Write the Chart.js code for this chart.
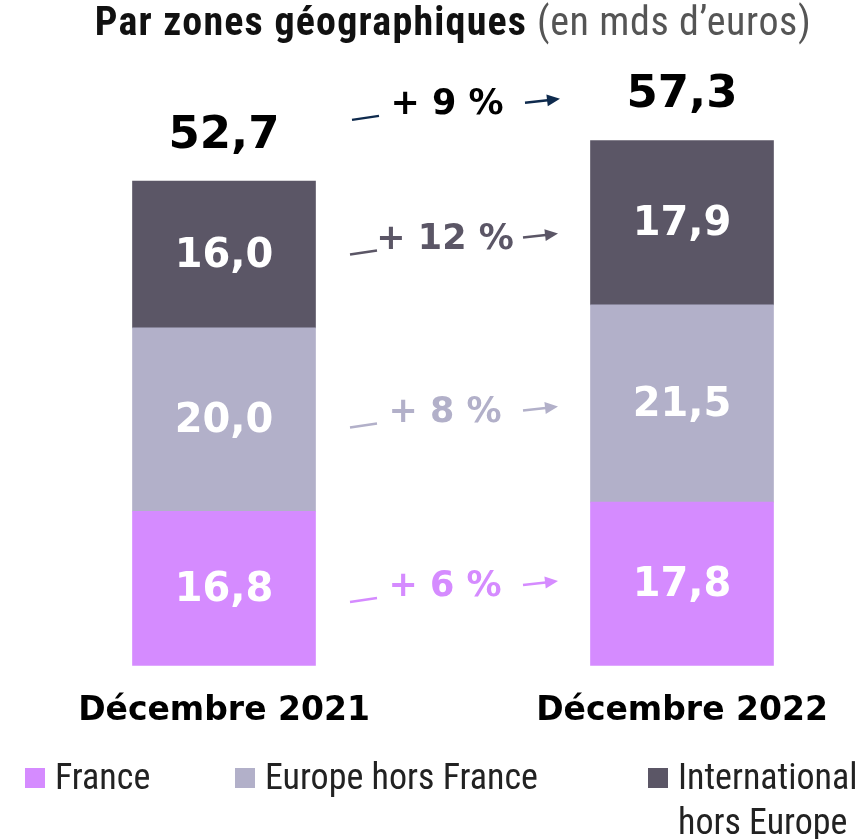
<!DOCTYPE html>
<html>
<head>
<meta charset="utf-8">
<script src="https://cdn.jsdelivr.net/npm/chart.js@4.4.0/dist/chart.umd.min.js"></script>
<style>
  html, body { margin: 0; padding: 0; background: #fff; }
  #wrap { position: relative; width: 864px; height: 839px; overflow: hidden; }
  #chart { position: absolute; left: 0; top: 0; }
  .narrow { font-family: "Liberation Sans Narrow", "Roboto Condensed", Roboto, sans-serif; }
  #title { position: absolute; left: 0; width: 906px; top: -2px; text-align: center; font-size: 40px; letter-spacing: 0.6px; color: #111; white-space: nowrap; }
  #title b { font-weight: bold; letter-spacing: 1.2px; }
  #title span { color: #555; }
  .leg { position: absolute; font-size: 36px; color: #222; line-height: 45px; white-space: nowrap; }
  .leg i { position: absolute; left: -30px; top: 13px; width: 20px; height: 20px; }
</style>
</head>
<body>
<div id="wrap">
  <canvas id="chart" width="864" height="839"></canvas>
  <div id="title" class="narrow"><b>Par zones géographiques</b> <span>(en mds d’euros)</span></div>
  <div class="leg narrow" style="left:55px; top:755px;"><i style="background:#D58BFF"></i>France</div>
  <div class="leg narrow" style="left:265px; top:755px;"><i style="background:#B2B0C9"></i>Europe hors France</div>
  <div class="leg narrow" style="left:678px; top:755px;"><i style="background:#5B5666"></i>International<br>hors Europe</div>
</div>
<script>
document.addEventListener('DOMContentLoaded', function() {
    const periods = ['Décembre 2021', 'Décembre 2022'];
    const france = [16.8, 17.8];
    const europe = [20.0, 21.5];
    const international = [16.0, 17.9];
    const totals = [52.7, 57.3];   // totals as published
    const growthTotal = '+ 9 %';
    const growthBySeries = ['+ 6 %', '+ 8 %', '+ 12 %'];   // France, Europe, International

    const colors = ['#D58BFF', '#B2B0C9', '#5B5666'];
    const boldFont = '"DejaVu Sans", sans-serif';

    const fmt = v => v.toFixed(1).replace('.', ',');

    // small dash, label and arrow between the two bars
    function drawGrowth(ctx, cx, cy, text, textColor, lineColor) {
        ctx.save();
        ctx.font = 'bold 35px ' + boldFont;
        ctx.fillStyle = textColor;
        ctx.textAlign = 'center';
        ctx.textBaseline = 'middle';
        ctx.fillText(text, cx, cy);

        ctx.strokeStyle = lineColor;
        ctx.fillStyle = lineColor;
        ctx.lineWidth = 2.5;
        ctx.beginPath();
        ctx.moveTo(cx - 95, cy + 15);
        ctx.lineTo(cx - 68, cy + 11);
        ctx.stroke();

        const x1 = cx + 78, y1 = cy - 2, x2 = cx + 113, y2 = cy - 6;
        ctx.beginPath();
        ctx.moveTo(x1, y1);
        ctx.lineTo(x2 - 10, y2 + 1.2);
        ctx.stroke();
        const ang = Math.atan2(y2 - y1, x2 - x1);
        ctx.beginPath();
        ctx.moveTo(x2, y2);
        ctx.lineTo(x2 - 13 * Math.cos(ang) + 6 * Math.sin(ang), y2 - 13 * Math.sin(ang) - 6 * Math.cos(ang));
        ctx.lineTo(x2 - 13 * Math.cos(ang) - 6 * Math.sin(ang), y2 - 13 * Math.sin(ang) + 6 * Math.cos(ang));
        ctx.closePath();
        ctx.fill();
        ctx.restore();
    }

    const labelsPlugin = {
        id: 'barLabels',
        afterDatasetsDraw(chart) {
            const ctx = chart.ctx;
            const metas = chart.data.datasets.map((d, i) => chart.getDatasetMeta(i));

            // values inside segments
            ctx.save();
            ctx.font = 'bold 40px ' + boldFont;
            ctx.fillStyle = '#fff';
            ctx.textAlign = 'center';
            ctx.textBaseline = 'middle';
            metas.forEach((meta, di) => {
                meta.data.forEach((bar, i) => {
                    ctx.fillText(fmt(chart.data.datasets[di].data[i]), bar.x, (bar.y + bar.base) / 2 + 2);
                });
            });

            // totals above bars
            ctx.font = 'bold 45px ' + boldFont;
            ctx.fillStyle = '#000';
            const top = metas[metas.length - 1];
            const tops = [];
            top.data.forEach((bar, i) => {
                ctx.fillText(fmt(totals[i]), bar.x, bar.y - 45);
                tops.push(bar.y);
            });
            ctx.restore();

            const cx = (metas[0].data[0].x + metas[0].data[1].x) / 2 - 8;

            metas.forEach((meta, di) => {
                const m0 = (meta.data[0].y + meta.data[0].base) / 2;
                const m1 = (meta.data[1].y + meta.data[1].base) / 2;
                drawGrowth(ctx, cx, (m0 + m1) / 2 + 1, growthBySeries[di], colors[di], colors[di]);
            });
            drawGrowth(ctx, cx + 2, (tops[0] + tops[1]) / 2 - 56, growthTotal, '#000', '#0E2A4D');
        }
    };

    new Chart(document.getElementById('chart').getContext('2d'), {
        type: 'bar',
        data: {
            labels: periods,
            datasets: [
                { label: 'France', data: france, backgroundColor: colors[0] },
                { label: 'Europe hors France', data: europe, backgroundColor: colors[1] },
                { label: 'International hors Europe', data: international, backgroundColor: colors[2] }
            ]
        },
        options: {
            responsive: false,
            animation: false,
            layout: { padding: { top: 115, bottom: 82, left: 224, right: 182 } },
            datasets: { bar: { barThickness: 183, clip: false } },
            plugins: { legend: { display: false }, tooltip: { enabled: false } },
            scales: {
                x: {
                    stacked: true,
                    offset: false,
                    grid: { display: false, drawTicks: false },
                    border: { display: false },
                    ticks: { padding: 26, color: '#000', font: { family: boldFont, size: 33, weight: 'bold' } }
                },
                y: { stacked: true, display: false, min: 0, max: 60 }
            }
        },
        plugins: [labelsPlugin]
    });
});
</script>
</body>
</html>
